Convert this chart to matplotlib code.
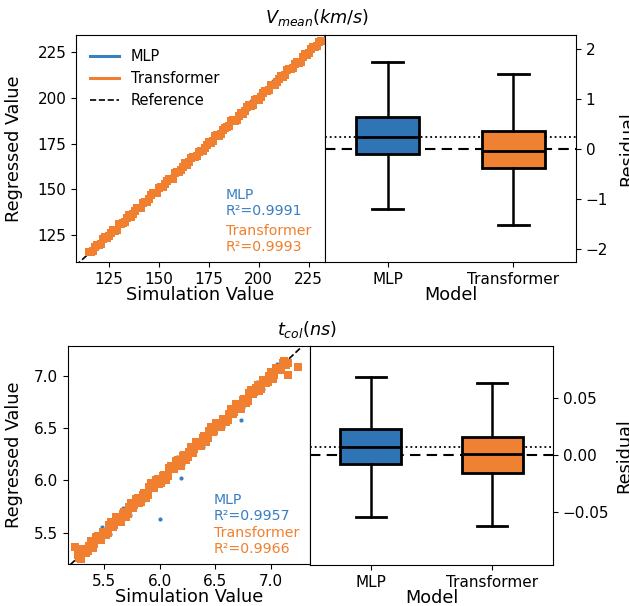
import numpy as np
import matplotlib
matplotlib.use("Agg")
import matplotlib.pyplot as plt
from matplotlib.lines import Line2D

# ---------------- data ----------------
models = ["MLP", "Transformer"]
r2_v = [0.9991, 0.9993]
r2_t = [0.9957, 0.9966]

# V_mean scatter (simulation value, regressed - simulation)
v_tr_sim = [115,117,119,121,123,125,127,129,131,133,135,137,139,141,143,145,147,149,151,153,
            155,157,159,161,163,165,167,169,171,173,175,177,179,181,183,185,187,189,191,193,
            195,197,199,201,203,205,207,209,211,213,215,217,219,221,223,225,227,229,231]
v_tr_res = [0.8,-0.9,0.4,-0.6,1.1,-0.3,0.7,-1.0,0.2,-0.7,
            0.9,-0.4,0.6,-1.1,0.3,-0.5,1.0,-0.8,0.5,-0.2,
            0.9,-1.2,0.4,-0.6,1.2,-0.3,0.7,-0.9,0.1,-0.7,
            1.0,-0.5,0.6,-1.0,0.3,-0.4,0.8,-1.1,0.5,-0.2,
            1.1,-0.8,0.4,-0.6,0.9,-1.0,0.2,-0.5,1.0,-0.7,
            0.6,-0.9,0.3,-1.2,0.8,-0.4,0.5,-0.6,0.2]
v_tr_sim_b = [116,118,120,122,124,126,128,130,132,134,136,138,140,142,144,146,148,150,152,154,
              156,158,160,162,164,166,168,170,172,174,176,178,180,182,184,186,188,190,192,194,
              196,198,200,202,204,206,208,210,212,214,216,218,220,222,224,226,228,230]
v_tr_res_b = [-0.5,0.7,-0.2,0.9,-0.8,0.4,-0.6,1.0,-0.3,0.6,
              -0.9,0.2,-0.4,0.8,-0.7,1.1,-0.1,0.5,-1.0,0.7,
              -0.3,0.9,-0.6,0.3,-0.8,1.0,-0.4,0.6,-1.1,0.2,
              -0.5,0.9,-0.7,0.4,-0.2,1.2,-0.6,0.3,-0.9,0.8,
              -0.4,0.6,-1.0,0.5,-0.3,0.9,-0.8,0.2,-0.6,1.1,
              -0.2,0.7,-0.9,0.4,-0.5,0.8,-0.3,0.6]
v_mlp_sim = [116,119,123,127,131,134,138,142,145,149,153,156,160,163,167,171,174,178,181,185,
             188,191,194,197,200,203,206,209,212,215,218,221,224,227,230,186,196,207,213,202]
v_mlp_res = [0.9,-0.8,1.2,-0.6,1.0,0.4,1.3,-0.5,0.8,1.1,-0.4,1.4,0.6,-0.7,1.2,0.9,-0.3,1.5,1.0,1.7,
             0.5,1.8,-0.6,1.6,1.9,0.7,2.0,1.2,-0.8,1.8,2.1,0.6,1.4,1.0,0.8,2.3,2.2,2.4,1.9,2.1]

# t_col scatter
t_tr_sim = [5.26,5.29,5.32,5.35,5.38,5.41,5.44,5.47,5.50,5.53,5.56,5.59,5.62,5.65,5.68,5.71,
            5.74,5.77,5.80,5.83,5.86,5.89,5.92,5.95,5.98,6.01,6.04,6.07,6.10,6.13,6.16,6.19,
            6.22,6.25,6.28,6.31,6.34,6.37,6.40,6.43,6.46,6.49,6.52,6.55,6.58,6.61,6.64,6.67,
            6.70,6.73,6.76,6.79,6.82,6.85,6.88,6.91,6.94,6.97,7.00,7.03,7.06,7.09,7.12,7.15,
            5.24,7.24,7.15]
t_tr_res = [0.03,-0.04,0.02,-0.03,0.04,-0.02,0.03,-0.04,0.01,-0.03,
            0.04,-0.02,0.03,-0.05,0.02,-0.03,0.04,-0.01,0.03,-0.04,
            0.02,-0.03,0.05,-0.02,0.03,-0.04,0.01,-0.03,0.04,-0.02,
            0.03,-0.05,0.02,-0.03,0.04,-0.01,0.03,-0.04,0.02,-0.03,
            0.05,-0.02,0.03,-0.04,0.01,-0.03,0.04,-0.02,0.03,-0.05,
            0.02,-0.03,0.04,-0.01,0.03,-0.04,0.02,-0.03,0.04,-0.02,
            0.01,-0.04,0.02,-0.03,
            0.12,-0.16,-0.14]
t_tr_sim_b = [5.275,5.305,5.335,5.365,5.395,5.425,5.455,5.485,5.515,5.545,
              5.575,5.605,5.635,5.665,5.695,5.725,5.755,5.785,5.815,5.845,
              5.875,5.905,5.935,5.965,5.995,6.025,6.055,6.085,6.115,6.145,
              6.175,6.205,6.235,6.265,6.295,6.325,6.355,6.385,6.415,6.445,
              6.475,6.505,6.535,6.565,6.595,6.625,6.655,6.685,6.715,6.745,
              6.775,6.805,6.835,6.865,6.895,6.925,6.955,6.985,7.015,7.045,
              7.075,7.105,7.135]
t_tr_res_b = [-0.02,0.04,-0.03,0.01,-0.04,0.03,-0.01,0.02,-0.04,0.03,
              -0.02,0.04,-0.03,0.01,-0.05,0.02,-0.02,0.04,-0.03,0.01,
              -0.04,0.03,-0.01,0.04,-0.03,0.02,-0.05,0.03,-0.01,0.04,
              -0.02,0.03,-0.04,0.01,-0.03,0.04,-0.02,0.02,-0.05,0.03,
              -0.01,0.04,-0.03,0.02,-0.04,0.01,-0.02,0.04,-0.03,0.02,
              -0.04,0.03,-0.01,0.02,-0.04,0.03,-0.02,0.01,-0.05,0.03,
              -0.02,0.02,-0.03]
t_mlp_sim = [5.25,5.30,5.36,5.42,5.48,5.55,5.61,5.67,5.73,5.79,5.85,5.91,5.97,6.03,6.09,6.15,
             6.21,6.27,6.33,6.39,6.45,6.51,6.57,6.63,6.69,6.75,6.81,6.87,6.93,6.99,7.05,7.10,
             5.999,6.193,6.728,7.10]
t_mlp_res = [0.05,-0.06,0.06,-0.05,0.07,-0.06,0.05,0.07,-0.06,0.06,-0.05,0.07,0.05,-0.06,0.06,0.07,
             -0.05,0.06,0.05,-0.07,0.06,0.05,-0.06,0.07,0.06,-0.05,0.06,0.07,-0.06,0.05,0.06,0.04,
             -0.369,-0.173,-0.148,0.06]

# residual box statistics [MLP, Transformer]
v_med = [0.246, -0.033]; v_q1 = [-0.10, -0.387]; v_q3 = [0.635, 0.355]
v_lo = [-1.20, -1.51]; v_hi = [1.73, 1.50]; v_mean_mlp = 0.246
t_med = [0.0073, 0.0006]; t_q1 = [-0.0082, -0.0161]; t_q3 = [0.0229, 0.0158]
t_lo = [-0.0546, -0.0628]; t_hi = [0.0687, 0.063]; t_mean_mlp = 0.0070

# ---------------- style ----------------
plt.rcParams['font.family'] = ['DejaVu Sans']
C_BLUE = '#3a7fc1'
C_ORANGE = '#f08030'
B_BLUE = '#2f75b6'
B_ORANGE = '#ee8232'
TICK = 11
LAB = 12.7
ANN = 10.2

W, H = 629, 606
fig = plt.figure(figsize=(W / 100, H / 100), dpi=100)

def px(l, r, t, b):
    return [l / W, (H - b) / H, (r - l) / W, (b - t) / H]

def scatter_panel(ax, mlp_sim, mlp_res, tr_sim, tr_res, xlim, ylim, r2, ann_x, ann_y, ms_tr, legend):
    ms = np.array(mlp_sim); mr = ms + np.array(mlp_res)
    ts = np.array(tr_sim); tr = ts + np.array(tr_res)
    lo = min(xlim[0], ylim[0]) - 10; hi = max(xlim[1], ylim[1]) + 10
    ax.plot([lo, hi], [lo, hi], ls='--', color='black', lw=1.2, zorder=1)
    ax.scatter(ms, mr, s=9, color=C_BLUE, marker='o', linewidths=0, zorder=2)
    ax.scatter(ts, tr, s=ms_tr, color=C_ORANGE, marker='s', linewidths=0, zorder=3)
    ax.set_xlim(xlim); ax.set_ylim(ylim)
    ax.tick_params(labelsize=TICK)
    ax.set_xlabel('Simulation Value', fontsize=LAB, labelpad=-0.5)
    ax.set_ylabel('Regressed Value', fontsize=LAB)
    ax.text(ann_x, ann_y[0], f'MLP\nR²={r2[0]:.4f}', color=C_BLUE, fontsize=ANN,
            transform=ax.transAxes, ha='left', va='center', linespacing=1.25)
    ax.text(ann_x, ann_y[1], f'Transformer\nR²={r2[1]:.4f}', color=C_ORANGE, fontsize=ANN,
            transform=ax.transAxes, ha='left', va='center', linespacing=1.25)
    if legend:
        handles = [Line2D([], [], color=C_BLUE, lw=2.2),
                   Line2D([], [], color=C_ORANGE, lw=2.2),
                   Line2D([], [], color='black', lw=1.2, ls='--')]
        ax.legend(handles, ['MLP', 'Transformer', 'Reference'], loc='upper left',
                  frameon=False, fontsize=10.5, borderaxespad=0.55, labelspacing=0.5)

def box_panel(ax, med, q1, q3, lo, hi, mean_mlp, ylim, yticks):
    stats = []
    for i in range(len(models)):
        stats.append(dict(med=med[i], q1=q1[i], q3=q3[i], whislo=lo[i], whishi=hi[i],
                          fliers=[], label=models[i]))
    ax.axhline(0, ls='--', color='black', lw=1.5, zorder=1, dashes=(5, 3))
    ax.axhline(mean_mlp, ls=':', color='black', lw=1.3, zorder=1)
    bp = ax.bxp(stats, positions=[0, 1], widths=0.5, patch_artist=True, showfliers=False,
                boxprops=dict(lw=2.0, edgecolor='black'),
                medianprops=dict(color='black', lw=2.0),
                whiskerprops=dict(color='black', lw=1.8),
                capprops=dict(color='black', lw=2.0), capwidths=0.25, zorder=3)
    for patch, c in zip(bp['boxes'], [B_BLUE, B_ORANGE]):
        patch.set_facecolor(c)
    ax.set_xlim(-0.5, 1.5)
    ax.set_ylim(ylim)
    ax.set_yticks(yticks)
    ax.yaxis.tick_right()
    ax.yaxis.set_label_position('right')
    ax.tick_params(labelsize=TICK)
    ax.set_xlabel('Model', fontsize=LAB, labelpad=-0.5)
    ax.set_ylabel('Residual', fontsize=LAB)

# top row
ax1 = fig.add_axes(px(76, 325, 35, 262))
scatter_panel(ax1, v_mlp_sim, v_mlp_res, v_tr_sim + v_tr_sim_b, v_tr_res + v_tr_res_b,
              (108.5, 233.2), (110.3, 234.3), r2_v, 0.602, (0.26, 0.101), 26, True)
ax1.set_xticks([125, 150, 175, 200, 225]); ax1.set_yticks([125, 150, 175, 200, 225])
ax1.yaxis.set_label_coords((23 - 76) / 249, 0.5)
ax2 = fig.add_axes(px(325, 576, 35, 262))
box_panel(ax2, v_med, v_q1, v_q3, v_lo, v_hi, v_mean_mlp, (-2.25, 2.27), [-2, -1, 0, 1, 2])
ax2.yaxis.set_label_coords((618 - 325) / 251, 0.5)
fig.text(317.5 / W, 1 - 18 / H, r'$V_{mean}(km/s)$', fontsize=LAB, ha='center', va='center')

# bottom row
ax3 = fig.add_axes(px(68, 310, 346, 564))
scatter_panel(ax3, t_mlp_sim, t_mlp_res, t_tr_sim + t_tr_sim_b, t_tr_res + t_tr_res_b,
              (5.173, 7.351), (5.20, 7.284), r2_t, 0.603, (0.257, 0.1055), 30, False)
ax3.set_xticks([5.5, 6.0, 6.5, 7.0]); ax3.set_yticks([5.5, 6.0, 6.5, 7.0])
ax3.yaxis.set_label_coords((23 - 68) / 242, 0.5)
ax4 = fig.add_axes(px(310, 553, 346, 565))
box_panel(ax4, t_med, t_q1, t_q3, t_lo, t_hi, t_mean_mlp, (-0.097, 0.096), [-0.05, 0.0, 0.05])
ax4.yaxis.set_label_coords((615 - 310) / 243, 0.5)
fig.text(306.7 / W, 1 - 329 / H, r'$t_{col}(ns)$', fontsize=LAB, ha='center', va='center')

fig.savefig('out.png', dpi=100)
